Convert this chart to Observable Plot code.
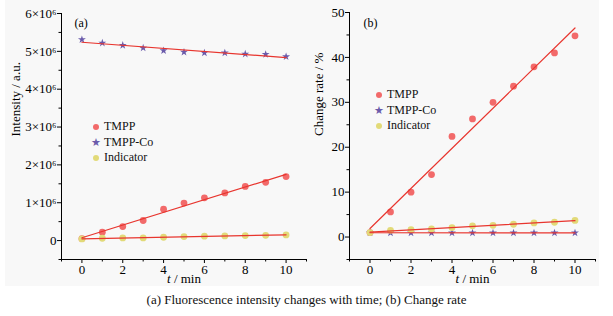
<!DOCTYPE html>
<html><head><meta charset="utf-8">
<script src="https://cdn.jsdelivr.net/npm/d3@7"></script>
<script src="https://cdn.jsdelivr.net/npm/@observablehq/plot@0.6"></script>
<style>
body{margin:0;background:#fff;font-family:"Liberation Serif",serif;}
#wrap{position:relative;width:613px;height:316px;overflow:hidden;}
#bg{position:absolute;left:5px;top:0;width:594px;height:286px;background:#f8f8f8;}
.panel{position:absolute;top:0;}
.leg{position:absolute;font-size:12px;line-height:14px;color:#111;white-space:nowrap;}
.leg .m{position:absolute;left:-13px;top:0;width:10px;text-align:center;}
.dot{display:inline-block;width:6px;height:6px;border-radius:50%;margin-top:4px;}
.star{font-size:11px;color:#6b5bab;line-height:14px;}
#cap{position:absolute;top:292px;left:0;width:613px;text-align:center;font-size:13px;color:#111;}
</style></head>
<body>
<div id="wrap">
<div id="bg"></div>
<div id="pa" class="panel" style="left:0px"></div>
<div id="pb" class="panel" style="left:300px"></div>
<div id="cap">(a) Fluorescence intensity changes with time; (b) Change rate</div>
</div>
<script>
// ---- data ----
const time = [0,1,2,3,4,5,6,7,8,9,10];
const seriesNames = ["TMPP","TMPP-Co","Indicator"];
const intensityTMPP = [0.05,0.22,0.37,0.53,0.83,0.99,1.13,1.26,1.43,1.54,1.69].map(v=>v*1e6);
const intensityCo   = [5.31,5.22,5.16,5.09,5.02,4.98,4.96,4.96,4.93,4.92,4.86].map(v=>v*1e6);
const intensityInd  = [0.044,0.062,0.07,0.07,0.088,0.106,0.115,0.124,0.133,0.14,0.15].map(v=>v*1e6);
const rateTMPP = [1,5.6,10,13.9,22.4,26.3,30,33.6,37.9,41,44.8];
const rateCo   = [1,0.95,0.93,0.95,0.92,0.93,0.92,0.94,0.93,0.92,0.93];
const rateInd  = [1,1.5,1.65,1.8,2.1,2.5,2.6,2.85,3.15,3.3,3.7];
const xMajor = [0,2,4,6,8,10];
const xMinor = [-1,1,3,5,7,9,11];
const yMajorA = [0,1e6,2e6,3e6,4e6,5e6,6e6];
const yMinorA = [-0.5e6,0.5e6,1.5e6,2.5e6,3.5e6,4.5e6,5.5e6];
const yMajorB = [0,10,20,30,40,50];
const yMinorB = [-5,5,15,25,35,45];

const colors = {"TMPP":"#f26a6a","TMPP-Co":"#6b5bab","Indicator":"#e2da78"};
const lineColor = "#e8352e";
const font = "Liberation Serif";

function rows(vals){ return time.map((t,i)=>({t, v: vals[i]})); }

function panel({el, width, marginLeft, marginRight, marginTop, yDomain, yMajor, yMinor, tickFmt, ylab, ylabOffset, tag, tagDx, tagDy, series}){
  const H = 286;
  const marks = [];
  marks.push(Plot.ruleX([-1], {y1: yDomain[0], y2: yDomain[1], stroke: "#000", strokeWidth: 1}));
  marks.push(Plot.ruleY([yDomain[0]], {x1: -1, x2: 11, stroke: "#000", strokeWidth: 1}));
  marks.push(Plot.axisX(xMajor, {tickSize: 4, tickPadding: 1, fontSize: 13, tickFormat: d=>String(d), label: null}));
  marks.push(Plot.axisX(xMinor, {tickSize: 2.5, tickFormat: ()=>"", label: null}));
  marks.push(Plot.axisY(yMajor, {tickSize: 4, tickPadding: 1, fontSize: 13, tickFormat: tickFmt, label: null}));
  marks.push(Plot.axisY(yMinor, {tickSize: 2.5, tickFormat: ()=>"", label: null}));
  for (const s of series){
    if (s.name === "TMPP-Co"){
      marks.push(Plot.dot(rows(s.vals), {x:"t", y:"v", symbol:"star", r:2.5, fill: colors[s.name], stroke: "none"}));
    } else {
      marks.push(Plot.dot(rows(s.vals), {x:"t", y:"v", r:3.4, fill: colors[s.name], stroke: "none"}));
    }
  }
  for (const s of series){
    marks.push(Plot.linearRegressionY(rows(s.vals), {x:"t", y:"v", stroke: lineColor, strokeWidth: 1.2, ci: 0}));
  }
  marks.push(Plot.text(["t / min"], {frameAnchor:"bottom", lineAnchor:"middle", dy: 19, fontSize: 13, text: d=>d}));
  marks.push(Plot.text([ylab], {frameAnchor:"left", lineAnchor:"middle", rotate:-90, dx: -ylabOffset, fontSize: 13, text: d=>d}));
  marks.push(Plot.text([tag], {frameAnchor:"top-left", lineAnchor:"middle", dx: tagDx, dy: tagDy, fontSize: 12, textAnchor:"start", text: d=>d}));
  const svg = Plot.plot({
    width, height: H, marginLeft, marginRight, marginTop, marginBottom: H-259,
    style: {background: "transparent", fontFamily: font, color: "#000"},
    x: {domain: [-1, 11], axis: null},
    y: {domain: yDomain, axis: null},
    marks
  });
  d3.select(svg).selectAll("text").filter(function(){ return this.textContent === "t / min"; }).each(function(){
    const t = d3.select(this); t.text("");
    t.append("tspan").attr("font-style","italic").text("t");
    t.append("tspan").text(" / min");
  });
  document.getElementById(el).appendChild(svg);
}

panel({el:"pa", width:310, marginLeft:61, marginRight:4, marginTop:13,
  yDomain:[-0.5e6, 6e6], yMajor: yMajorA, yMinor: yMinorA,
  tickFmt: d => d===0 ? "0" : `${d/1e6}×10⁶`,
  ylab: "Intensity / a.u.", ylabOffset: 46, tag: "(a)", tagDx: 13, tagDy: 10,
  series: [{name:"TMPP", vals:intensityTMPP},{name:"TMPP-Co", vals:intensityCo},{name:"Indicator", vals:intensityInd}]});

panel({el:"pb", width:313, marginLeft:49, marginRight:18, marginTop:12,
  yDomain:[-5, 50], yMajor: yMajorB, yMinor: yMinorB,
  tickFmt: d => String(d),
  ylab: "Change rate / %", ylabOffset: 31, tag: "(b)", tagDx: 14, tagDy: 11,
  series: [{name:"TMPP", vals:rateTMPP},{name:"TMPP-Co", vals:rateCo},{name:"Indicator", vals:rateInd}]});

function legend(left, top){
  const d = document.createElement("div");
  d.className = "leg"; d.style.left = left+"px"; d.style.top = top+"px";
  seriesNames.forEach((n)=>{
    const row = document.createElement("div");
    row.style.position="relative"; row.style.height="15.5px";
    const m = document.createElement("span"); m.className="m";
    if (n==="TMPP-Co"){ m.innerHTML = `<span class="star">★</span>`; }
    else { m.innerHTML = `<span class="dot" style="background:${colors[n]}"></span>`; }
    row.appendChild(m);
    row.appendChild(document.createTextNode(n));
    d.appendChild(row);
  });
  document.getElementById("wrap").appendChild(d);
}
legend(104, 119);
legend(387, 87);
</script>
</body></html>
